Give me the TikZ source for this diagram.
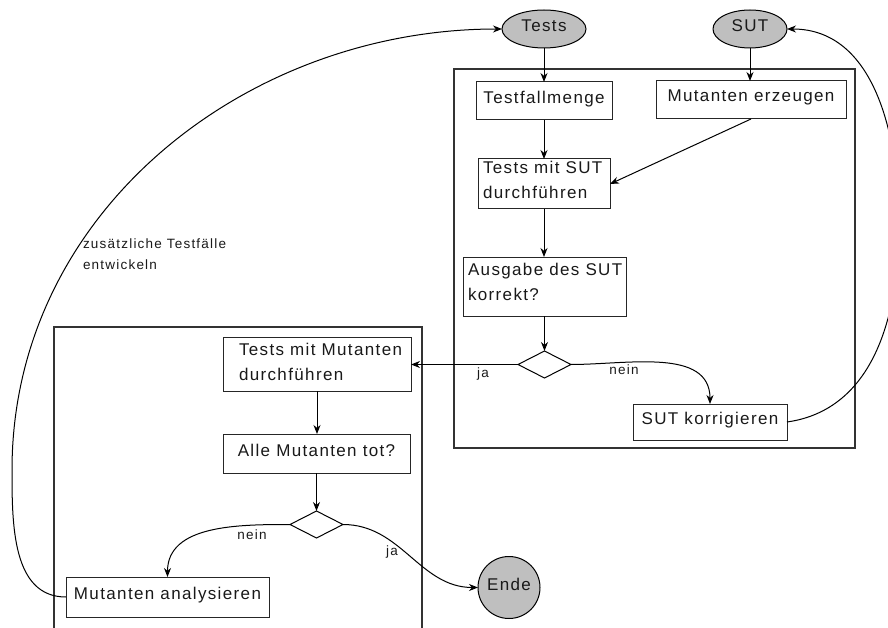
\documentclass[tikz,border=0pt]{standalone}
\usepackage{fontspec}
\setmainfont{Liberation Sans}
\newfontfamily\boxfont[LetterSpace=8]{Liberation Sans}
\newfontfamily\lblfont[LetterSpace=9]{Liberation Sans}
\usetikzlibrary{shapes.geometric,arrows.meta}
\begin{document}
\begin{tikzpicture}[x=1pt,y=-1pt,
  every node/.style={inner sep=0pt, outer sep=0pt, text=black!90},
  frame/.style={draw=black!80, line width=1.1pt, rectangle},
  stepbox/.style={draw=black!85, line width=1pt, rectangle,
    font=\boxfont\fontsize{17}{25}\selectfont, text height=12.2pt, text depth=7pt},
  boxtext/.style={font=\boxfont\fontsize{17}{25}\selectfont, align=left, anchor=north west},
  term/.style={draw, line width=1pt, ellipse, fill=black!25,
    font=\boxfont\fontsize{17}{25}\selectfont, text height=12.2pt, text depth=7pt},
  decision/.style={draw, diamond, line width=1pt, minimum width=53pt, minimum height=27pt},
  flow/.style={line width=1pt, -{Stealth[length=9pt,width=7pt]}},
  lbl/.style={font=\lblfont\fontsize{13.5}{21}\selectfont, align=left}
]
\useasboundingbox (0,0) rectangle (888,628);
\clip (0,0) rectangle (888,628);

% the two phases
\node[frame, minimum width=401pt, minimum height=379pt] (frR) at (654.5,258.5) {};
\node[frame, minimum width=368pt, minimum height=340pt] (frL) at (238,497) {};

% inputs
\node[term, minimum width=84pt, minimum height=38pt] (tests) at (544,29) {Tests};
\node[term, minimum width=74pt, minimum height=38pt] (sut) at (750,29) {SUT};

% first phase
\node[stepbox, minimum width=136pt, minimum height=38pt] (tfm) at (544,101) {Testfallmenge};
\node[stepbox, minimum width=190pt, minimum height=38pt, text depth=10pt] (mut) at (751,100) {Mutanten erzeugen};
\node[stepbox, minimum width=132pt, minimum height=50pt] (tsut) at (544,184) {};
\node[boxtext] (tsutT) at (483,161) {Tests mit SUT\\durchführen};
\node[stepbox, minimum width=163pt, minimum height=59pt] (ausg) at (544.5,286.5) {};
\node[boxtext] (ausgT) at (468,263) {Ausgabe des SUT\\korrekt?};
\node[decision] (d1) at (544.5,364.5) {};
\node[stepbox, minimum width=154pt, minimum height=36pt] (skor) at (710,422) {SUT korrigieren};

% second phase
\node[stepbox, minimum width=188pt, minimum height=54pt] (tmut) at (317,364) {};
\node[boxtext] (tmutT) at (239,343) {Tests mit Mutanten\\durchführen};
\node[stepbox, minimum width=187pt, minimum height=39pt] (alle) at (316.5,453.5) {Alle Mutanten tot?};
\node[decision] (d2) at (316.5,524.5) {};
\node[stepbox, minimum width=203pt, minimum height=40pt] (mana) at (167.5,597) {Mutanten analysieren};
\node[term, circle, minimum size=62pt] (ende) at (509,587.5) {Ende};

% bends of the two feedback loops
\coordinate (rbend) at (899,225);
\coordinate (lbend) at (12,470);

% edge labels
\node[lbl, anchor=north west] (zus) at (83,239) {zusätzliche Testfälle\\entwickeln};
\node[lbl] (ja1) at (483,374) {ja};
\node[lbl] (nein1) at (624,370) {nein};
\node[lbl] (nein2) at (252,535) {nein};
\node[lbl] (ja2) at (392,552) {ja};

% connectors
\draw[flow] (tests) -- (tfm);
\draw[flow] (sut.south) -- (sut.south |- mut.north);
\draw[flow] (tfm) -- (tsut);
\draw[flow] (mut.south) -- (tsut.east);
\draw[flow] (tsut.south) -- (tsut.south |- ausg.north);
\draw[flow] (ausg.south) -- (d1.north);
\draw[flow] (d1.west) -- (tmut.east |- d1.west);
\draw[flow] (d1.east) to[out=0,in=90] (skor.north);
\draw[flow] (skor.east) to[out=8,in=270] (rbend) to[out=90,in=0] (sut.east);
\draw[flow] (tmut.south) -- (tmut.south |- alle.north);
\draw[flow] (alle.south) -- (d2.north);
\draw[flow] (d2.west) to[out=180,in=90] (mana.north);
\draw[flow] (d2.east) to[out=0,in=180] (ende.west);
\draw[flow] (mana.west) to[out=180,in=270] (lbend) to[out=90,in=180] (tests.west);
\end{tikzpicture}
\end{document}
